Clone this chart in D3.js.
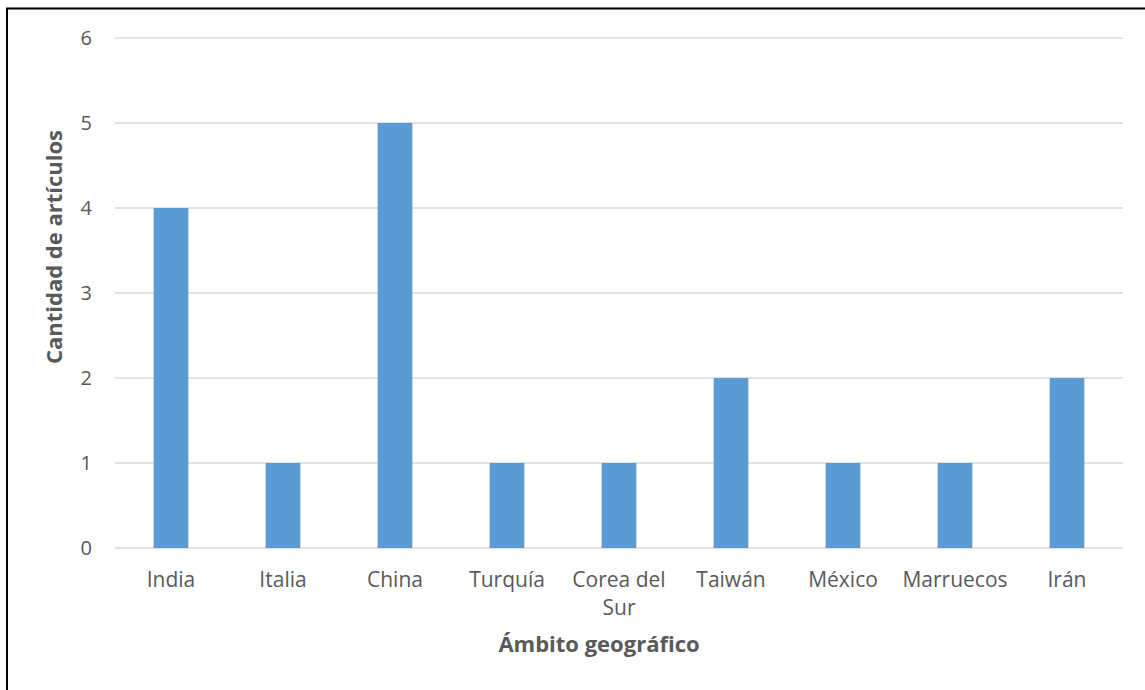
<!DOCTYPE html>
<html><head><meta charset="utf-8">
<script src="https://cdn.jsdelivr.net/npm/d3@7"></script>
<style>html,body{margin:0;padding:0;background:#fff;overflow:hidden}</style>
</head><body>
<svg id="c" width="1145" height="690"></svg>
<script>
const categories = ["India","Italia","China","Turquía","Corea del Sur","Taiwán","México","Marruecos","Irán"];
const values = [4,1,5,1,1,2,1,1,2];
const yTicks = [0,1,2,3,4,5,6];
const xTitle = "Ámbito geográfico";
const yTitle = "Cantidad de artículos";

(function(){
const svg = d3.select("#c");
const font = "'Open Sans', 'Noto Sans', sans-serif";
const textColor = "#595959";

// outer border (top & left visible)
svg.append("rect").attr("x",7).attr("y",8.5).attr("width",1160).attr("height",700)
  .attr("fill","none").attr("stroke","#000").attr("stroke-width",2);

const pLeft = 115, pRight = 1123, pTop = 38, pBottom = 548;
const x = d3.scaleBand().domain(categories).range([pLeft,pRight]).paddingInner(0.69).paddingOuter(0.345);
const y = d3.scaleLinear().domain([0,6]).range([pBottom,pTop]);

// gridlines
svg.append("g").selectAll("line").data(yTicks).join("line")
  .attr("x1",pLeft).attr("x2",pRight)
  .attr("y1",d=>y(d)).attr("y2",d=>y(d))
  .attr("stroke","#d9d9d9").attr("stroke-width",1.3);

// bars
svg.append("g").selectAll("rect").data(values).join("rect")
  .attr("x",(d,i)=>x(categories[i]))
  .attr("width",x.bandwidth())
  .attr("y",d=>y(d))
  .attr("height",d=>y(0)-y(d))
  .attr("fill","#5b9bd5");

// y axis
const yAxis = d3.axisLeft(y).tickValues(yTicks).tickSize(0).tickPadding(23).tickFormat(d3.format("d"));
const gy = svg.append("g").attr("transform",`translate(${pLeft},0)`).call(yAxis);
gy.select(".domain").remove();
gy.attr("font-family",null).attr("font-size",null);
gy.selectAll("text").attr("fill",textColor).style("font-family",font).style("font-size","20px");

// x axis
const xAxis = d3.axisBottom(x).tickSize(0).tickPadding(24);
const gx = svg.append("g").attr("transform",`translate(0,${pBottom})`).call(xAxis);
gx.select(".domain").remove();
gx.attr("font-family",null).attr("font-size",null);
gx.selectAll("text").attr("fill",textColor).style("font-family",font).style("font-size","21px")
  .attr("dy",null)
  .each(function(d){
    const t = d3.select(this);
    const maxW = x.step()-4;
    const words = String(d).split(" ");
    t.text(null);
    let line = [];
    let ts = t.append("tspan").attr("x",0).attr("dy","0.73em");
    words.forEach(w=>{
      line.push(w);
      ts.text(line.join(" "));
      if (ts.node().getComputedTextLength() > maxW && line.length>1) {
        line.pop(); ts.text(line.join(" "));
        line=[w];
        ts = t.append("tspan").attr("x",0).attr("dy","28px").text(w);
      }
    });
  });

// axis titles
svg.append("text").attr("x",599).attr("y",652).attr("text-anchor","middle")
  .attr("fill",textColor).style("font-family",font).style("font-size","22px").style("font-weight","bold")
  .text(xTitle);
svg.append("text").attr("transform",`translate(62,247) rotate(-90)`).attr("text-anchor","middle")
  .attr("fill",textColor).style("font-family",font).style("font-size","22px").style("font-weight","bold")
  .text(yTitle);
})();
</script>
</body></html>
